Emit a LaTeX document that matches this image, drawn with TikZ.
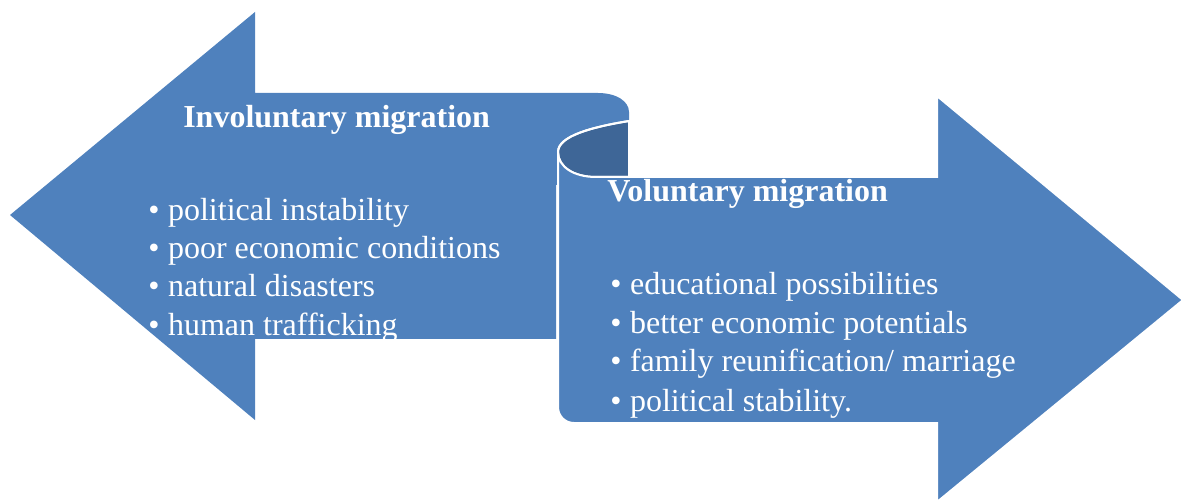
\documentclass[tikz,border=0pt]{standalone}
\usepackage{fontspec}
\setmainfont{Liberation Serif}
\usepackage{tikz}

\definecolor{arrowblue}{HTML}{4F81BD}
\definecolor{curlblue}{HTML}{3E6697}

\tikzset{
  arrowbody/.style={fill=arrowblue,draw=white,line width=1.5pt,line join=miter},
  curlback/.style={fill=curlblue,draw=white,line width=1.5pt},
  heading/.style={text=white,font=\fontsize{24}{28}\selectfont\bfseries,inner sep=0pt,anchor=base west},
  item/.style={text=white,font=\fontsize{24}{28}\selectfont,inner sep=0pt,anchor=base west}
}
\newcommand{\bul}{\makebox[0.62em][l]{\textbullet}}

\begin{document}
\begin{tikzpicture}[x=0.75pt,y=-0.75pt]
        \useasboundingbox (0,0) rectangle (1189,502);
        % left arrow (involuntary)
        \fill[arrowblue] (10,215) -- (255,12) -- (255,93) -- (598,93)
            .. controls (616,93) and (629,101) .. (629,112) -- (629,185)
            -- (556,185) -- (556,339) -- (255,339) -- (255,420) -- cycle;
        % back of the curl
        \draw[curlback] (629,121) .. controls (592,127) and (558,136) .. (558,152)
            .. controls (558,167) and (574,177) .. (596,177) -- (629,177) -- cycle;
        % right arrow (voluntary)
        \draw[arrowbody] (558,152) .. controls (558,167) and (574,177) .. (596,177)
            -- (937,177) -- (937,96) -- (1183,300) -- (937,502) -- (937,423)
            -- (574,423) .. controls (565,423) and (558,416) .. (558,407) -- cycle;
        \draw[white,line width=1.5pt] (629,121) .. controls (592,127) and (558,136) .. (558,152);
        % texts
        \node[heading] (invtitle) at (183,128) {Involuntary migration};
        \node[heading] (voltitle) at (607,202) {Voluntary migration};
        \node[item] (inv1) at (148,221) {\bul political instability};
        \node[item] (inv2) at (148,259) {\bul poor economic conditions};
        \node[item] (inv3) at (148,297) {\bul natural disasters};
        \node[item] (inv4) at (148,335) {\bul human trafficking};
        \node[item] (vol1) at (610,295) {\bul educational possibilities};
        \node[item] (vol2) at (610,334) {\bul better economic potentials};
        \node[item] (vol3) at (610,372) {\bul family reunification/ marriage};
        \node[item] (vol4) at (610,411) {\bul political stability.};
\end{tikzpicture}
\end{document}
